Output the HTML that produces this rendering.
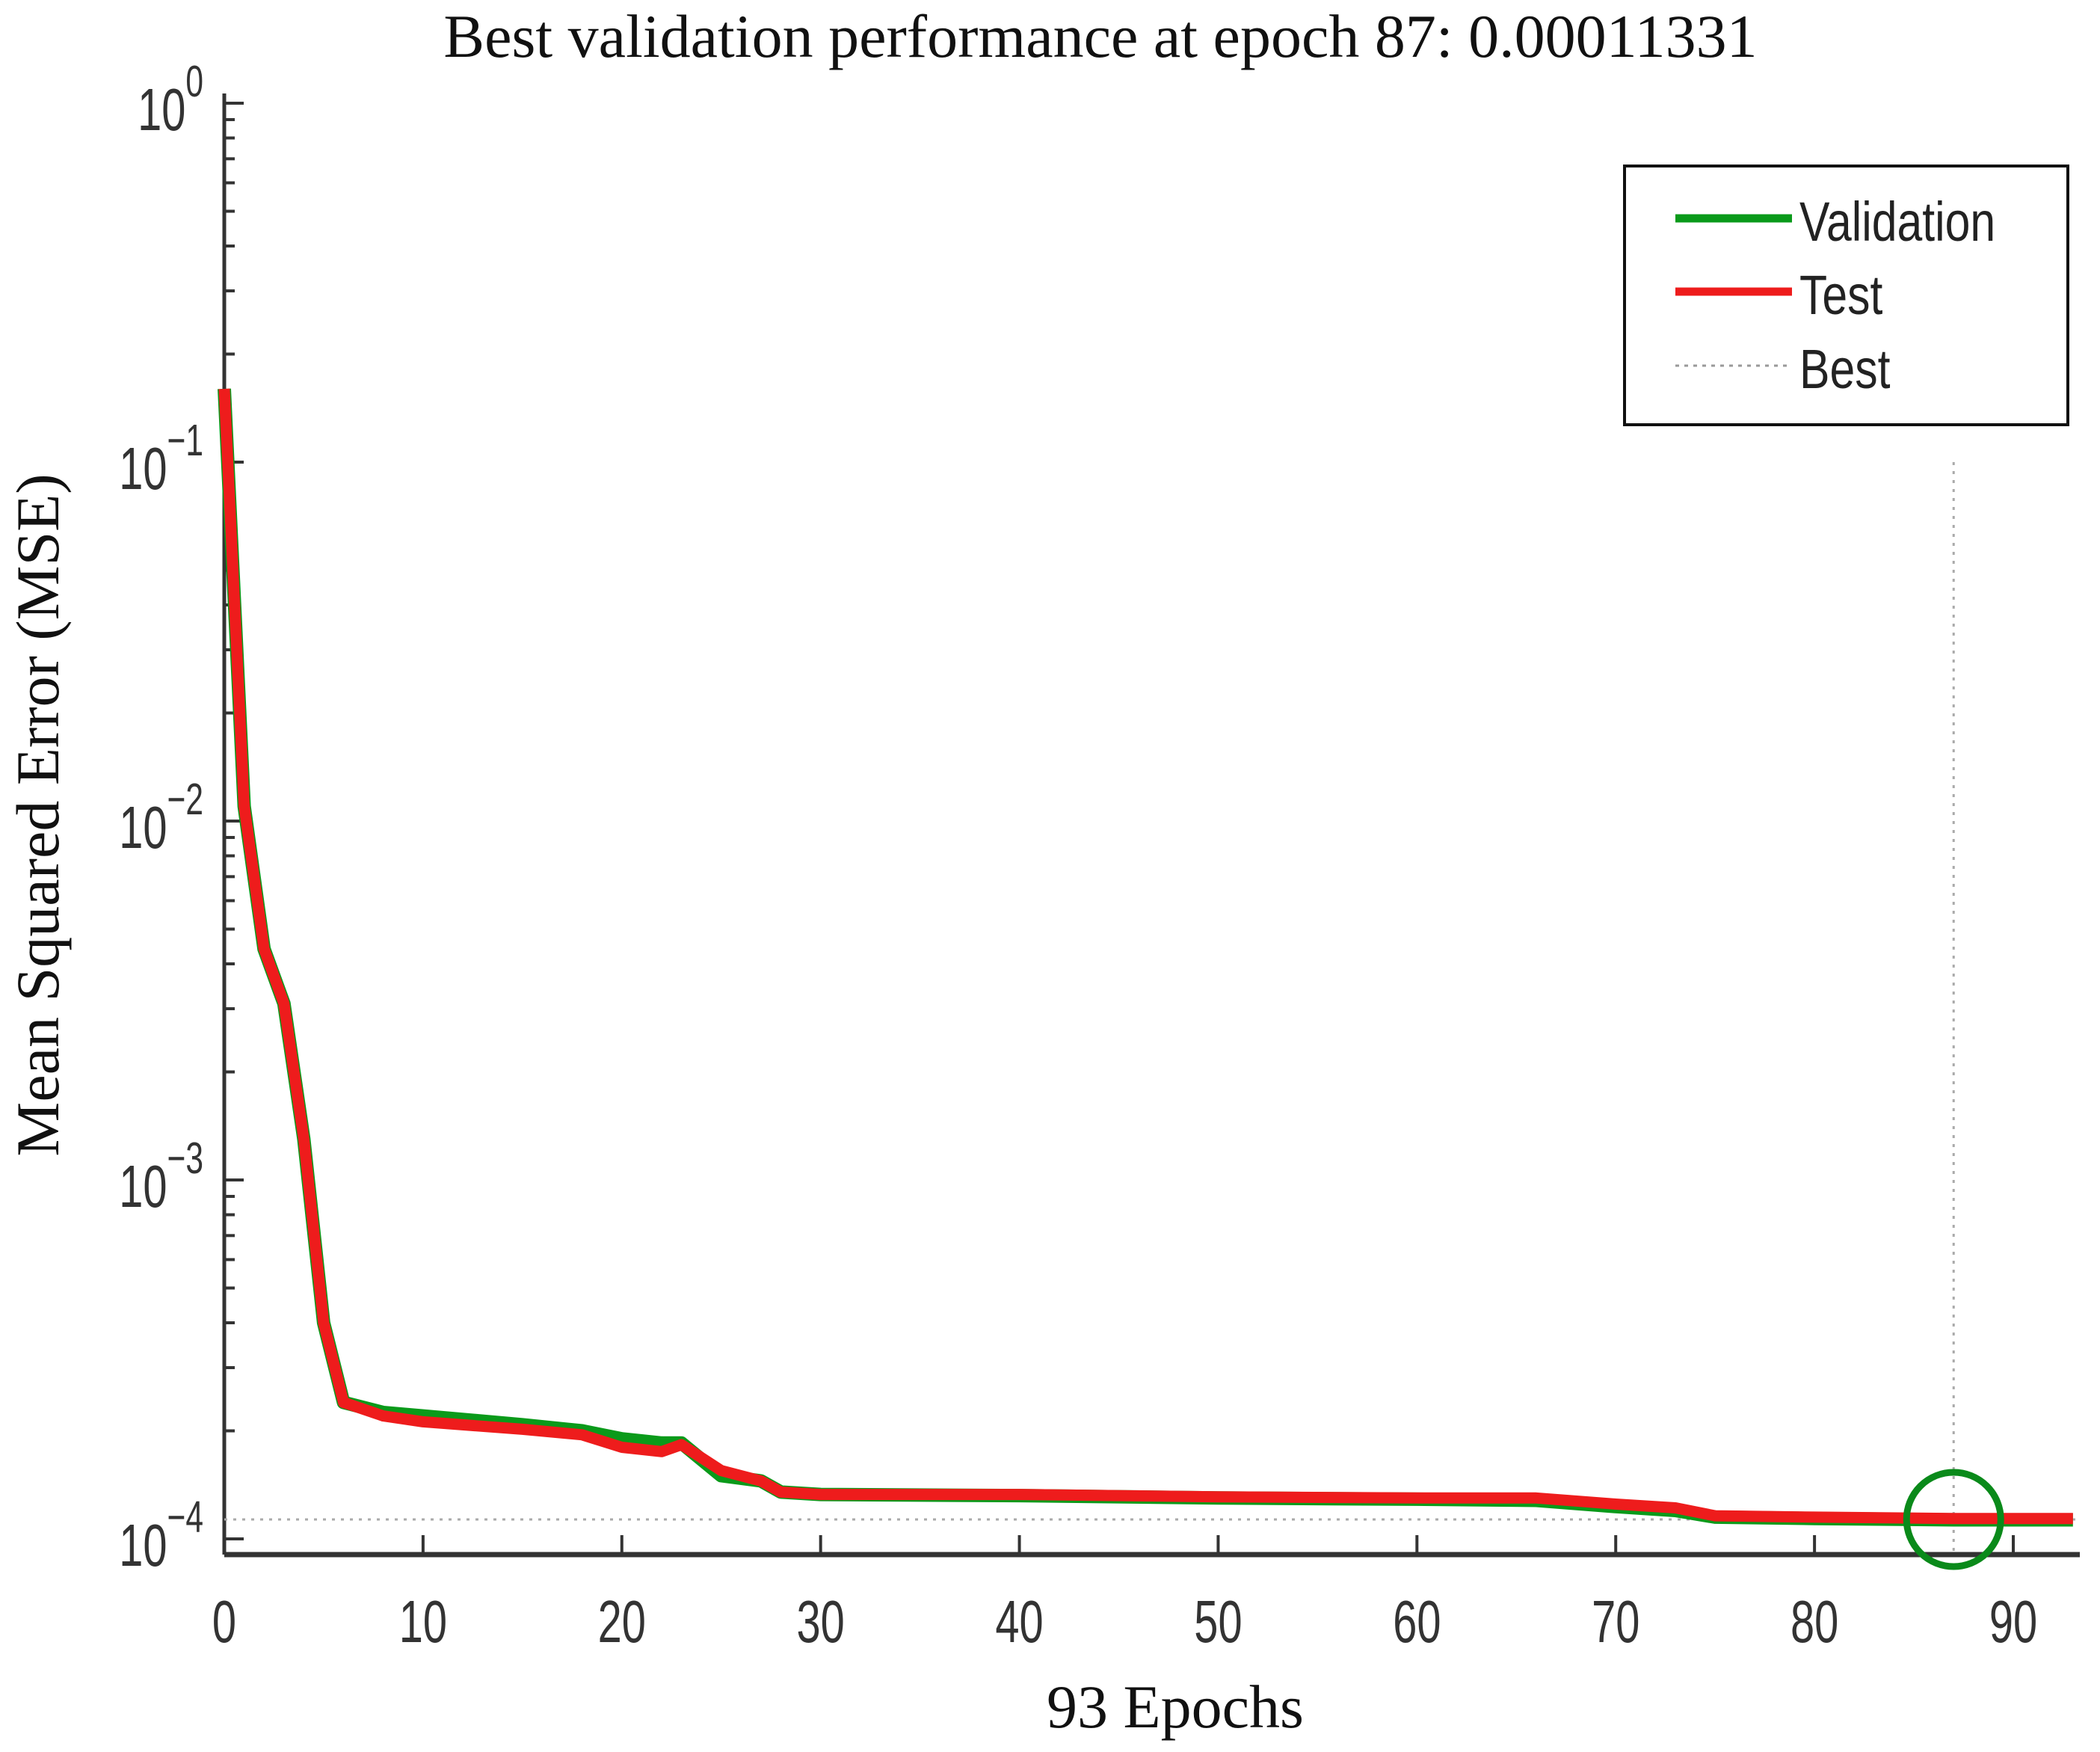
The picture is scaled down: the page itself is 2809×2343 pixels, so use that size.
<!DOCTYPE html>
<html><head><meta charset="utf-8"><style>
html,body{margin:0;padding:0;background:#fff;}
svg{display:block;}
</style></head><body>
<svg id="chart" width="2809" height="2343" viewBox="0 0 2809 2343" xmlns="http://www.w3.org/2000/svg">
<text x="1472" y="76" font-family="Liberation Serif, serif" font-size="82" text-anchor="middle" fill="#111">Best validation performance at epoch 87: 0.00011331</text>
<text transform="translate(78,1090) rotate(-90)" font-family="Liberation Serif, serif" font-size="82" text-anchor="middle" fill="#111">Mean Squared Error (MSE)</text>
<text x="1572" y="2310" font-family="Liberation Serif, serif" font-size="82" text-anchor="middle" fill="#111">93 Epochs</text>
<g id="axes"></g>
<g id="marks"></g>
<g>
<rect x="2173" y="222" width="593" height="346" fill="#fff" stroke="#111" stroke-width="4"/>
<line x1="2241" y1="292" x2="2397" y2="292" stroke="#0a9a1a" stroke-width="11"/>
<text transform="translate(2407,322) scale(0.92,1.12)" font-family="Liberation Sans, sans-serif" font-size="66" fill="#222">Validation</text>
<line x1="2241" y1="390" x2="2397" y2="390" stroke="#ee1c1c" stroke-width="11"/>
<text transform="translate(2407,420) scale(0.92,1.12)" font-family="Liberation Sans, sans-serif" font-size="66" fill="#222">Test</text>
<line x1="2241" y1="489" x2="2397" y2="489" stroke="#999" stroke-width="3" stroke-dasharray="5,7"/>
<text transform="translate(2407,519) scale(0.92,1.12)" font-family="Liberation Sans, sans-serif" font-size="66" fill="#222">Best</text>
</g>
</svg>
<script>
const epochs = [0,1,2,3,4,5,6,8,10,15,18,20,22,23,25,27,28,30,40,50,60,66,70,73,75,80,87,93];
const validation = [0.16,0.011,0.0044,0.0031,0.0013,0.0004,0.00024,0.000225,0.00022,0.000208,0.0002,0.00019,0.000185,0.000185,0.00015,0.000145,0.000135,0.000133,0.000132,0.00013,0.000129,0.000128,0.000123,0.00012,0.000115,0.000114,0.000113,0.000113];
const test = [0.16,0.011,0.0044,0.0031,0.0013,0.0004,0.00024,0.00022,0.000212,0.000202,0.000195,0.00018,0.000175,0.000183,0.000155,0.000145,0.000135,0.000133,0.000133,0.000131,0.00013,0.00013,0.000125,0.000122,0.000116,0.000115,0.000114,0.000114];
const bestEpoch = 87;
const bestValue = 0.00011331;
const xTicks = [0,10,20,30,40,50,60,70,80,90];
const yDecades = [0,-1,-2,-3,-4];

const NS = "http://www.w3.org/2000/svg";
const X0 = 300, XPER = (2693-300)/90;
const Y0 = 138, DEC = 480;
function xs(e){return X0 + e*XPER;}
function ys(v){return Y0 - Math.log10(v)*DEC;}
function mk(tag, attrs, parent){const el=document.createElementNS(NS,tag);for(const k in attrs)el.setAttribute(k,attrs[k]);parent.appendChild(el);return el;}
const axes=document.getElementById('axes'), marks=document.getElementById('marks');
const bottom=2079, right=2782;
let a=mk('line',{x1:X0,y1:125,x2:X0,y2:bottom,stroke:'#333','stroke-width':5},axes);


a=mk('line',{x1:X0,y1:bottom,x2:right,y2:bottom,stroke:'#333','stroke-width':7},axes);


xTicks.forEach(t=>{
  const l=mk('line',{x1:xs(t),y1:bottom,x2:xs(t),y2:bottom-26,stroke:'#333','stroke-width':4},axes);
  
  
  const tx=mk('text',{transform:'translate('+xs(t)+',2196) scale(0.85,1.18)','font-family':'Liberation Sans, sans-serif','font-size':68,'text-anchor':'middle',fill:'#333'},axes);
  tx.textContent=t;
  
  
});
yDecades.forEach(d=>{
  const y=ys(Math.pow(10,d));
  const l=mk('line',{x1:X0,y1:y,x2:X0+26,y2:y,stroke:'#333','stroke-width':4},axes);
  
  
  const tx=mk('text',{transform:'translate('+(X0-28)+','+(y+36)+') scale(0.85,1.18)','font-family':'Liberation Sans, sans-serif','font-size':68,'text-anchor':'end',fill:'#333'},axes);
  tx.textContent='10';
  const sp=mk('tspan',{dy:-38,'font-size':50},tx);
  sp.textContent=d===0?'0':'\u2212'+(-d);
  
  
  if(d>-4){for(let m=2;m<=9;m++){
    const ym=ys(m*Math.pow(10,d-1));
    const ml=mk('line',{x1:X0,y1:ym,x2:X0+14,y2:ym,stroke:'#333','stroke-width':4},axes);
    
    
  }}
});
let b=mk('line',{x1:X0,y1:ys(bestValue),x2:right,y2:ys(bestValue),stroke:'#aaa','stroke-width':3,'stroke-dasharray':'4,8'},marks);


b=mk('line',{x1:xs(bestEpoch),y1:618,x2:xs(bestEpoch),y2:bottom,stroke:'#aaa','stroke-width':3,'stroke-dasharray':'4,8'},marks);


function path(vals){return epochs.map((e,i)=>(i?'L':'M')+xs(e).toFixed(1)+','+ys(vals[i]).toFixed(1)).join(' ');}
let p=mk('path',{d:path(validation),fill:'none',stroke:'#0a9a1a','stroke-width':18,'stroke-linejoin':'round'},marks);


p=mk('path',{d:path(test),fill:'none',stroke:'#ee1c1c','stroke-width':15,'stroke-linejoin':'round'},marks);


const c=mk('circle',{cx:xs(bestEpoch),cy:ys(bestValue),r:63,fill:'none',stroke:'#0a8a1a','stroke-width':9},marks);


</script>
</body></html>
